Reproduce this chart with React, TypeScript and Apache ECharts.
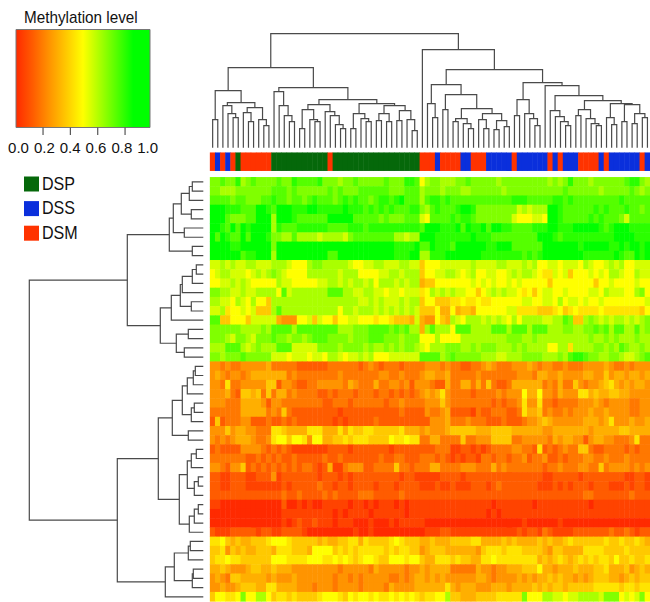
import React, { useEffect, useRef } from "react";
import * as echarts from "echarts";

const L = 0;
const FONT = "'Liberation Sans', Arial, sans-serif";

// One hex digit per cell: digit / 16 is the methylation level. Rows top to bottom, 86 columns.
const levelRows: string[] = [
  "bbcbbdabcb bbbcbbdccc cdbbbabbcb bbbbcbbbdd c8abbaaabb cbbbbbabbb bbbbbbabab dbbbabbbbb bcddba",
  "bbaaabbbbb bbcccbcbbb bbbcbcbbbc cccccbbbcc cabbbabbba abbbbbbabb bbbbbbbbbc bbbbbbabbb bbcbab",
  "ccccbccbbb ccdccbccbc dcccbcdcdc cbcddcdecc cacddcdccc cccccccccd ddcccccddc dccccccccc dccccc",
  "eeedddccce edceeeddde edddddedd d cdcdcdcccd dbacdcccde edbbbbbbbb 9a9aaaeedc cccccdcdcc cdccbc",
  "eeecbbbcce eeaeeedccc ccceeeeecc cccbcbbbcc c98ccccdcd dcbbbbbbb9 888998eedc ccccdcdccc b9cccc",
  "eedcecedee eeadcccddd dddccccddd cddddddddd dceeedddec eddeceeddc cccddd eedd deeeeedcde eedddd",
  "ecedccecee edbbaacaaa a9aaaa9bcc ccccccaa9a aeeedddddd dedddccccc cccceeedcd ddddddddde eeeddd",
  "eeeeddeeee eebeeeeeee eeeeeeeeee eeeeeedddd eccedddcee eeeeddeeec ccccceeeee eedeeeeedd edeede",
  "eeeeeecdde eeaeeeeeee eeecceeeee eeeeeeddde eaadddeeee eeeddddddd dcdcdeeeee eeedddddde dccede",
  "99a9a99aa9 99aaa9888a bbaaaaa988 99aa999aa9 9688899999 9a9999aa99 9a9a889989 998a9889a9 a88999",
  "89aa99989a 9aba98888a aaaaa9aaa8 88899aa9aa a6889 9aa98 9a8899889a 9aa9877989 68889898aa 988a99",
  "8899a9a988 888a998888 899aa9a9aa 9a8aaa9a9a a566888888 8989898898 9888886888 8888868898 888988",
  "bbaa99a99a aaa8c9aaaa aaacccaa99 aa99899899 978a9a9a99 88689a9a99 8786899889 8888998a99 988ab8",
  "aa998a98a8 86aaaaaaaa aaaaaaaaa9 9a9a999a9a a688666778 7787788888 89988998a8 9989889888 888889",
  "99a7889896 66acaaaaaa aaaaa8aa9a aa9a9a9a9a 9666855856 6588888899 7777666786 7877778777 777768",
  "cc66888699 9995444889 6988688998 8878876665 9544865a98 aaa9a9a98a 8aaaa99aac b66aba9a9a a9a9ab",
  "bbbbbbaaaa baccccaccc cccccaaabb bccccbcbca a5acaaa8cc caaaacccac ccacccaaab baabbcbcac caacab",
  "bbba9bba9b bbcbbabbab cccbbbbabb bcccbbbabb b888a8888a aaaaaaaabb baabaaaaaa aaaabaabab aaabaa",
  "aaaccca9ab aaaccc9999 9bbbbabbbb abaabababb a98aaabbba ababbbaaab abaaaa88aa 7aaaabbaba cbaaba",
  "bbabbbcbbb bb99989998 998aa9899a 9a88899999 9ccccabcbb bbbaaa99aa abbbbaaaba cddcbbaabb a99abc",
  "4434334444 4533333222 2223333332 3432333233 3344434332 2334543334 4454344334 3334444543 343444",
  "4543443455 5555534333 3333343333 3334433433 3455445333 3343333333 4443554454 4445544645 545545",
  "4437334444 4662443223 3444443543 3353344342 4443225335 5353632235 5555534353 3643445675 454554",
  "4445326656 3635534333 3223233323 3323323232 3454574333 3233334344 4855844354 4477565566 554444",
  "4443335555 4244333333 3322333233 3333233433 3344464333 3333323233 4744733233 3344454344 443344",
  "3333335555 5343632222 2222212222 2222222322 2243345222 2132233322 3755634334 3444544544 443344",
  "2623334422 2322323222 2222121222 2232222222 2224445333 4333222322 2344565444 4445554574 445445",
  "4446455443 3377655557 7755575766 7766666755 5454445666 6655566665 5555544555 5555455555 665555",
  "4343455543 3478868874 8855667677 7666687787 7335533336 3344466663 3444443545 5442455443 334733",
  "2322224444 3232321111 1112222122 2222212222 2222333112 2121233334 4332723234 3366322333 323233",
  "3333333223 2323223222 2232232222 2223223322 2333232121 2213323323 3423342232 3334433433 343333",
  "4432446232 3232323233 2125113444 2233336332 3335533334 4433353433 3333323343 3344336344 443434",
  "2211222112 2241222222 2122212122 2222222122 1111122221 2222222222 2222211222 2212222222 211221",
  "2211222111 1111212222 2322122122 2212221222 2111211211 1222123222 2222111212 1222122211 121221",
  "2222222222 2222322322 2232322223 3322222322 2222222222 2222222222 2222222222 2223322222 223222",
  "1100000000 0000200101 0011111011 0101110101 1111111111 1111101111 1110111111 1111011111 111111",
  "0000000000 0000111111 1111010111 1011111101 1111111111 1111010111 1111111111 1111111111 111111",
  "0000000000 0000101211 2111011100 0100010111 1100000000 0000000000 0100000010 0000000000 000000",
  "2111222221 2211222210 0000000010 0100000000 0011122111 1111111111 2122132111 1222222232 232122",
  "7786565566 6788876666 6565566775 7666678766 6556555666 6775555656 5555656556 7666666766 766765",
  "6674656556 6657776665 8888676767 7777676776 6456665555 5546777677 7666654665 5557777666 676666",
  "6778776666 6688877778 8877878767 8876688878 8655777676 6557787777 7777565676 5676767768 667667",
  "5565444566 5565554444 4444434444 4354444434 4545555333 3354434455 5666855455 5655566755 564565",
  "4543665555 5454445444 4444344343 4444433434 5545454444 4455434444 5454556565 5454566655 456566",
  "4454456665 5775555444 3444344443 4444354444 5555557545 5544455545 5556565665 6666677777 677677",
  "688778b88a a867767666 6788876878 8787787878 767788a665 5566667777 7b888aa998 99aaaa9bbb 8989b8",
];

const columnClasses: string[] = (
  "MSMSMP" + "MMMMMM" + "PPPPPPPPPPP" + "M" + "PPPPPPPPPPPPPPPPP" + "MMM" + "S" + "MMMM" + "SS" + "MMM" +
  "SSSSS" + "M" + "SSSSSS" + "M" + "S" + "M" + "SSS" + "MMMM" + "S" + "M" + "SSSSSS" + "M" + "S"
).split("");

const classNames = ["DSP", "DSS", "DSM"];
const classKeys = ["P", "S", "M"];
const classColors = ["#05680a", "#0a2fdc", "#ff3300"];

const rampStops = [
  [0, "#ff2a00"], [0.125, "#ff5c00"], [0.25, "#ff9400"], [0.375, "#ffc900"], [0.5, "#ffff00"],
  [0.625, "#aaff00"], [0.75, "#55ff00"], [0.875, "#00ff00"], [1, "#00ff00"],
] as [number, string][];

const rampTicks = [0, 0.2, 0.4, 0.6, 0.8, 1];
const rampInnerTicks = [0.2, 0.4, 0.6, 0.8];

// Dendrograms: [merge height, left child, right child]; L is a leaf.
const columnTree: any = [114,
  [80,
    [57,
      [28, L, L],
      [45,
        [42, L, [34, L, [30, L, L]]],
        [40, [35, L, [26, L, L]], [28, L, [22, L, L]]]]],
    [60,
      [56, L, [42, L, [32, L, [26, L, L]]]],
      [48,
        [43,
          [38, [19, L, L], [28, L, [26, L, L]]],
          [36, L, [32, L, [23, L, [19, L, L]]]]],
        [44,
          [34, [19, L, L], [29, L, [26, L, L]]],
          [42,
            [34, [27, L, L], [26, L, L]],
            [37, [27, L, L], [28, L, [17, L, L]]]]]]]],
  [98,
    L,
    [78,
      [63,
        [44, L, [30, L, L]],
        [53,
          [38, L, L],
          [39,
            [29, [26, L, L], [24, L, [19, L, L]]],
            [34, [28, L, [19, L, L]], [27, [18, L, L], [21, L, L]]]]]],
      [65,
        [48, [32, L, L], [34, L, [29, L, [22, L, L]]]],
        [62,
          L,
          [52,
            [37, L, [31, L, [26, L, [22, L, L]]]],
            [47,
              [38, [32, L, L], [29, L, [24, L, [22, L, L]]]],
              [44,
                [30, L, [23, L, L]],
                [43, [26, L, L], [34, [24, L, L], [30, L, L]]]]]]]]]]];

const rowTree: any = [174,
  [76,
    [34,
      [30,
        [22, [14, [11, L, L], L], [12, L, L]],
        [19, L, L]],
      [11, L, L]],
    [43,
      [32,
        [23, [21, [11, [7, L, L], L], L], [12, L, L]],
        L],
      [27, [15, L, L], [19, L, L]]]],
  [86,
    [45,
      [31,
        [21,
          [16, [10, [8, L, L], L], L],
          [12, [9, L, L], L]],
        [15, L, L]],
      [24,
        [16,
          [12, [7, L, L], L],
          [9, [5, L, L], L]],
        [14, [9, [5, L, L], L], L]]],
    [38,
      [29,
        [15, [13, L, L], L],
        [11, [10, L, L], L]],
      L]]];

function treeSegments(root: any): number[][] {
  const out: number[][] = [];
  let next = 0;
  const walk = (n: any): [number, number] => {
    if (n === L) {
      const p = next + 0.5;
      next += 1;
      return [p, 0];
    }
    const a = walk(n[1]);
    const b = walk(n[2]);
    out.push([a[0], a[1], b[0], b[1], n[0]]);
    return [(a[0] + b[0]) / 2, n[0]];
  };
  walk(root);
  return out;
}

const NCOL = 86;
const NROW = levelRows.length;
const HEAT_LEFT = 210.1;
const HEAT_WIDTH = 440;
const HEAT_TOP = 177.3;
const HEAT_HEIGHT = 424.1;
const LINE = "#4a4a4a";

function App() {
  const ref = useRef<HTMLDivElement>(null);
  useEffect(() => {
    document.body.style.margin = "0";
    const chart = echarts.init(ref.current!, undefined, { renderer: "svg" });

    const colNames = Array.from({ length: NCOL }, (_, i) => String(i));
    const rowNames = Array.from({ length: NROW }, (_, i) => String(i));
    const heat: number[][] = [];
    levelRows.forEach((raw, r) => {
      const s = raw.replace(/ /g, "");
      for (let c = 0; c < NCOL; c++) {
        const ch = s[c] ?? s[s.length - 1];
        heat.push([c, r, parseInt(ch, 16) / 16]);
      }
    });
    const annot = columnClasses.map((k, c) => [c, 0, classKeys.indexOf(k)]);

    const renderTop = (_: any, api: any) => {
      const a = api.coord([api.value(0), api.value(1)]);
      const a2 = api.coord([api.value(0), api.value(4)]);
      const b2 = api.coord([api.value(2), api.value(4)]);
      const b = api.coord([api.value(2), api.value(3)]);
      return {
        type: "polyline",
        shape: { points: [a, a2, b2, b] },
        style: { stroke: LINE, fill: "none", lineWidth: 1.2 },
      };
    };
    const renderLeft = (_: any, api: any) => {
      const a = api.coord([api.value(1), api.value(0)]);
      const a2 = api.coord([api.value(4), api.value(0)]);
      const b2 = api.coord([api.value(4), api.value(2)]);
      const b = api.coord([api.value(3), api.value(2)]);
      return {
        type: "polyline",
        shape: { points: [a, a2, b2, b] },
        style: { stroke: LINE, fill: "none", lineWidth: 1.2 },
      };
    };

    const legendGraphics: any[] = [];
    classNames.forEach((name, i) => {
      const y = 176.5 + i * 24.6;
      legendGraphics.push({
        type: "rect",
        shape: { x: 24, y, width: 15, height: 15 },
        style: { fill: classColors[i] },
      });
      legendGraphics.push({
        type: "text",
        x: 42,
        y: y + 7.5,
        scaleX: 0.92,
        style: { text: name, fill: "#111", font: `17.5px ${FONT}`, textVerticalAlign: "middle" },
      });
    });

    const tickGraphics = rampInnerTicks.map((v) => ({
      type: "line",
      z: 6,
      shape: { x1: 15.7 + 136.7 * v, y1: 127.5, x2: 15.7 + 136.7 * v, y2: 135 },
      style: { stroke: "#555", lineWidth: 1.2 },
    }));

    chart.setOption({
      animation: false,
      tooltip: { show: false },
      grid: [
        { left: HEAT_LEFT, top: HEAT_TOP, width: HEAT_WIDTH, height: HEAT_HEIGHT },
        { left: HEAT_LEFT, top: 152.7, width: HEAT_WIDTH, height: 18 },
        { left: HEAT_LEFT, top: 27.67, width: HEAT_WIDTH, height: 120 },
        { left: 23.3, top: HEAT_TOP, width: 180, height: HEAT_HEIGHT },
        { left: 18.5, top: 29.3, width: 129.2, height: 98.4 },
      ],
      xAxis: [
        { gridIndex: 0, type: "category", data: colNames, show: false },
        { gridIndex: 1, type: "category", data: colNames, show: false },
        { gridIndex: 2, type: "value", min: 0, max: NCOL, show: false },
        { gridIndex: 3, type: "value", min: 0, max: 180, inverse: true, show: false },
        {
          gridIndex: 4, type: "value", min: 0, max: 1, interval: 0.2,
          axisLine: { show: false },
          axisTick: { show: false },
          splitLine: { show: false },
          axisLabel: {
            show: true, margin: 12, fontSize: 15, fontFamily: FONT, color: "#111",
            hideOverlap: false, showMinLabel: true, showMaxLabel: true,
            customValues: rampTicks,
            formatter: (v: number) => v.toFixed(1),
          },
        },
      ],
      yAxis: [
        { gridIndex: 0, type: "category", data: rowNames, inverse: true, show: false },
        { gridIndex: 1, type: "category", data: ["0"], show: false },
        { gridIndex: 2, type: "value", min: 0, max: 120, show: false },
        { gridIndex: 3, type: "value", min: 0, max: NROW, inverse: true, show: false },
        { gridIndex: 4, type: "value", min: 0, max: 1, show: false },
      ],
      visualMap: [
        {
          type: "continuous", show: false, seriesIndex: 0, dimension: 2, min: 0, max: 1,
          inRange: { color: rampStops.map((s) => s[1]) },
        },
        {
          type: "piecewise", show: false, seriesIndex: 1, dimension: 2,
          pieces: classColors.map((color, i) => ({ value: i, color })),
        },
      ],
      series: [
        { type: "heatmap", xAxisIndex: 0, yAxisIndex: 0, data: heat, silent: true, progressive: 0 },
        { type: "heatmap", xAxisIndex: 1, yAxisIndex: 1, data: annot, silent: true },
        {
          type: "custom", xAxisIndex: 2, yAxisIndex: 2, data: treeSegments(columnTree),
          renderItem: renderTop, silent: true, clip: false,
        },
        {
          type: "custom", xAxisIndex: 3, yAxisIndex: 3, data: treeSegments(rowTree),
          renderItem: renderLeft, silent: true, clip: false,
        },
        // Empty series that keeps the colour-bar label axis alive.
        { type: "scatter", xAxisIndex: 4, yAxisIndex: 4, data: [], silent: true },
      ],
      graphic: [
        {
          type: "rect",
          z: 5,
          shape: { x: 16, y: 29.5, width: 134, height: 98 },
          style: {
            fill: new echarts.graphic.LinearGradient(
              0, 0, 1, 0,
              rampStops.map(([offset, color]) => ({ offset, color }))
            ),
            stroke: "#777",
            lineWidth: 1,
          },
        },
        ...tickGraphics,
        {
          type: "text",
          x: 24,
          y: 17,
          scaleX: 0.92,
          style: { text: "Methylation level", fill: "#111", font: `16.6px ${FONT}`, textVerticalAlign: "middle" },
        },
        ...legendGraphics,
      ],
    });
    return () => chart.dispose();
  }, []);
  return <div ref={ref} style={{ width: 650, height: 602 }} />;
}

export default App;
